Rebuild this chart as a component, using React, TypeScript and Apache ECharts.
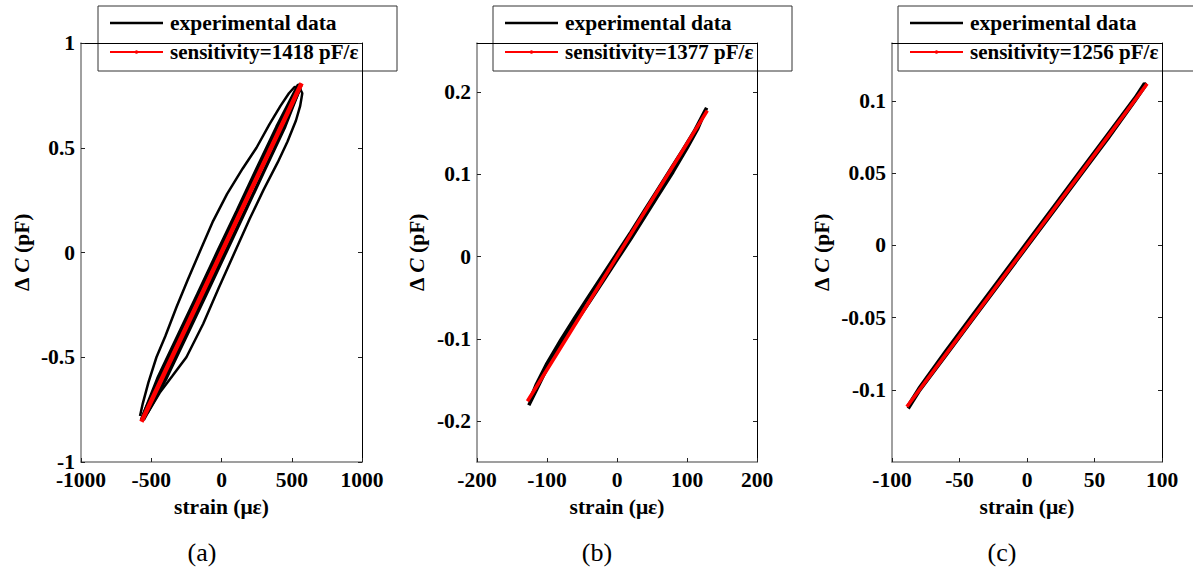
import React, { useEffect, useRef } from "react";
import * as echarts from "echarts";

// ---------- data ----------
const sensitivityLabels = ["sensitivity=1418 pF/ε", "sensitivity=1377 pF/ε", "sensitivity=1256 pF/ε"];
const panelLabels = ["(a)", "(b)", "(c)"];

// panel (a) strain (με) / ΔC (pF) hysteresis loops
const expA1 = [
  [-580, -0.78], [-560, -0.72], [-520, -0.62], [-463, -0.5], [-400, -0.4], [-320, -0.26], [-240, -0.13],
  [-157, 0], [-60, 0.15], [40, 0.28], [150, 0.4], [249, 0.5], [340, 0.61], [420, 0.7], [480, 0.76], [520, 0.79],
  [540, 0.79], [560, 0.78], [520, 0.72], [450, 0.61], [370, 0.49], [280, 0.36], [180, 0.22], [80, 0.08],
  [-20, -0.06], [-120, -0.2], [-220, -0.34], [-320, -0.48], [-420, -0.62], [-500, -0.73], [-565, -0.8],
];
const expA2 = [
  [-570, -0.8], [-520, -0.76], [-440, -0.67], [-350, -0.59], [-250, -0.5], [-130, -0.34], [-20, -0.17],
  [93, 0], [200, 0.16], [300, 0.3], [400, 0.43], [470, 0.53], [530, 0.63], [560, 0.7], [570, 0.74],
  [575, 0.76], [560, 0.78], [530, 0.76], [458, 0.68], [380, 0.57], [281, 0.43], [183, 0.29], [84, 0.15],
  [-15, 0.01], [-114, -0.13], [-212, -0.27], [-311, -0.41], [-410, -0.55], [-490, -0.67], [-544, -0.75], [-567, -0.79],
];
const expA3 = [
  [-555, -0.8], [-392, -0.6], [-250, -0.4], [-108, -0.2], [32, 0], [172, 0.2], [312, 0.4], [452, 0.6], [568, 0.8],
  [545, 0.8], [392, 0.6], [250, 0.4], [110, 0.2], [-32, 0], [-172, -0.2], [-314, -0.4], [-455, -0.6], [-572, -0.8],
];
const fitA = [[-570, -0.808], [-400, -0.567], [-200, -0.284], [0, 0], [200, 0.284], [400, 0.567], [570, 0.808]];

// panel (b)
const expB = [
  [-126, -0.181], [-115, -0.162], [-100, -0.136], [-80, -0.108], [-60, -0.081], [-40, -0.056], [-20, -0.03],
  [0, -0.004], [20, 0.022], [40, 0.049], [60, 0.076], [80, 0.103], [100, 0.132], [115, 0.155], [128, 0.181],
  [126, 0.178], [110, 0.152], [95, 0.131], [80, 0.111], [60, 0.084], [40, 0.057], [20, 0.03], [0, 0.004],
  [-20, -0.022], [-40, -0.048], [-60, -0.074], [-80, -0.101], [-100, -0.13], [-115, -0.155], [-125, -0.176],
];
const fitB = [[-128, -0.176], [-100, -0.1377], [-50, -0.0689], [0, 0], [50, 0.0689], [100, 0.1377], [129, 0.1776]];

// panel (c)
const expC = [
  [-88, -0.113], [-80, -0.101], [-60, -0.076], [-40, -0.051], [-20, -0.026], [0, -0.001], [20, 0.024],
  [40, 0.049], [60, 0.074], [80, 0.1], [88, 0.111],
  [87, 0.112], [80, 0.102], [60, 0.077], [40, 0.052], [20, 0.027], [0, 0.002], [-20, -0.023], [-40, -0.048],
  [-60, -0.073], [-80, -0.099], [-88, -0.111],
];
const fitC = [[-89, -0.1118], [-45, -0.0565], [0, 0], [45, 0.0565], [89, 0.1118]];

// axes
const xRanges = [[-1000, 1000, 500], [-200, 200, 100], [-100, 100, 50]];
const yRanges = [[-1, 1], [-0.25, 0.26], [-0.15, 0.14]];
const yTicks = [[-1, -0.5, 0, 0.5, 1], [-0.2, -0.1, 0, 0.1, 0.2], [-0.1, -0.05, 0, 0.05, 0.1]];

const FONT = "'Liberation Serif', 'Times New Roman', serif";
const FS = 21.5;

export default function App() {
  const ref = useRef<HTMLDivElement>(null);
  useEffect(() => {
    document.body.style.margin = "0";
    const chart = echarts.init(ref.current!, null, { renderer: "svg" });
    const grids = [
      { left: 81, top: 43, width: 281, height: 419 },
      { left: 477, top: 43, width: 280, height: 419 },
      { left: 892, top: 43, width: 270, height: 419 },
    ];
    const yNameGap = [48, 49, 59];
    const legendLeft = [98, 493, 898];
    const labelX = [202, 597, 1002];
    const fmt = (v: number) => String(v);

    const xAxis: any[] = [];
    const yAxis: any[] = [];
    grids.forEach((g, i) => {
      const [xmin, xmax, xint] = xRanges[i];
      xAxis.push({
        type: "value", gridIndex: i, position: "bottom", min: xmin, max: xmax, interval: xint,
        name: "strain (με)", nameLocation: "middle", nameGap: 33,
        nameTextStyle: { fontFamily: FONT, fontWeight: "bold", fontSize: FS, color: "#000" },
        axisLine: { show: true, onZero: false, lineStyle: { color: "#808080", width: 1.5 } },
        axisTick: { show: true, inside: true, length: 4, lineStyle: { color: "#222" } },
        axisLabel: { fontFamily: FONT, fontWeight: "bold", fontSize: FS, color: "#000", margin: 7, formatter: fmt },
        splitLine: { show: false },
      });
      xAxis.push({
        type: "value", gridIndex: i, position: "top", min: xmin, max: xmax, interval: xint,
        axisLine: { show: true, onZero: false, lineStyle: { color: "#000", width: 1 } },
        axisTick: { show: false }, axisLabel: { show: false }, splitLine: { show: false },
      });
      const [ymin, ymax] = yRanges[i];
      yAxis.push({
        type: "value", gridIndex: i, position: "left", min: ymin, max: ymax,
        name: "{d|Δ }{c|C}{d| (pF)}", nameLocation: "middle", nameRotate: 90, nameGap: yNameGap[i],
        nameTextStyle: {
          fontFamily: FONT, fontSize: FS, color: "#000",
          rich: {
            d: { fontFamily: FONT, fontSize: FS, fontWeight: "bold", color: "#000" },
            c: { fontFamily: FONT, fontSize: FS, fontStyle: "italic", fontWeight: "bold", color: "#000" },
          },
        },
        axisLine: { show: true, onZero: false, lineStyle: { color: "#808080", width: 1.5 } },
        axisTick: { show: true, inside: true, length: 4, customValues: yTicks[i], lineStyle: { color: "#222" } },
        axisLabel: { fontFamily: FONT, fontWeight: "bold", fontSize: FS, color: "#000", margin: 6, customValues: yTicks[i], formatter: fmt },
        splitLine: { show: false },
      });
      yAxis.push({
        type: "value", gridIndex: i, position: "right", min: ymin, max: ymax,
        axisLine: { show: true, onZero: false, lineStyle: { color: "#000", width: 1 } },
        axisTick: { show: true, inside: true, length: 4, customValues: yTicks[i], lineStyle: { color: "#222" } },
        axisLabel: { show: false, customValues: yTicks[i] },
        splitLine: { show: false },
      });
    });

    const black = (data: number[][], gi: number, w: number) => ({
      type: "line", name: "experimental data", data, xAxisIndex: gi * 2, yAxisIndex: gi * 2,
      symbol: "none", lineStyle: { color: "#000", width: w }, z: 2,
    });
    const red = (data: number[][], gi: number, w: number) => ({
      type: "line", name: sensitivityLabels[gi], data, xAxisIndex: gi * 2, yAxisIndex: gi * 2,
      symbol: "none", lineStyle: { color: "#ff0000", width: w }, z: 3,
    });

    const graphic: any[] = [];
    legendLeft.forEach((lx, i) => {
      graphic.push({
        type: "group", z: 100,
        children: [
          { type: "rect", shape: { x: lx, y: 6, width: 299, height: 65 }, style: { fill: "#fff", stroke: "#333", lineWidth: 1 } },
          { type: "line", shape: { x1: lx + 12, y1: 23, x2: lx + 65, y2: 23 }, style: { stroke: "#000", lineWidth: 2.5 } },
          { type: "line", shape: { x1: lx + 12, y1: 52, x2: lx + 65, y2: 52 }, style: { stroke: "#ff0000", lineWidth: 2 } },
          { type: "circle", shape: { cx: lx + 38.5, cy: 52, r: 1.8 }, style: { fill: "#ff0000" } },
          { type: "text", x: lx + 72, y: 23, style: { text: "experimental data", font: `bold ${FS}px ${FONT}`, fill: "#000", verticalAlign: "middle" } },
          { type: "text", x: lx + 72, y: 52, style: { text: sensitivityLabels[i], font: `bold 21px ${FONT}`, fill: "#000", verticalAlign: "middle" } },
        ],
      });
      graphic.push({
        type: "text", x: labelX[i], y: 552, z: 100,
        style: { text: panelLabels[i], font: `26px ${FONT}`, fill: "#000", align: "center", verticalAlign: "middle" },
      });
    });

    chart.setOption({
      animation: false,
      backgroundColor: "#fff",
      grid: grids,
      xAxis, yAxis,
      series: [
        black(expA1, 0, 2.5), black(expA2, 0, 2.5), black(expA3, 0, 3), red(fitA, 0, 4.5),
        black(expB, 1, 3.5), red(fitB, 1, 3.5),
        black(expC, 2, 3.5), red(fitC, 2, 3.5),
      ],
      graphic,
    });
    return () => chart.dispose();
  }, []);
  return <div ref={ref} style={{ position: "absolute", left: 0, top: 0, width: 1193, height: 571 }} />;
}
